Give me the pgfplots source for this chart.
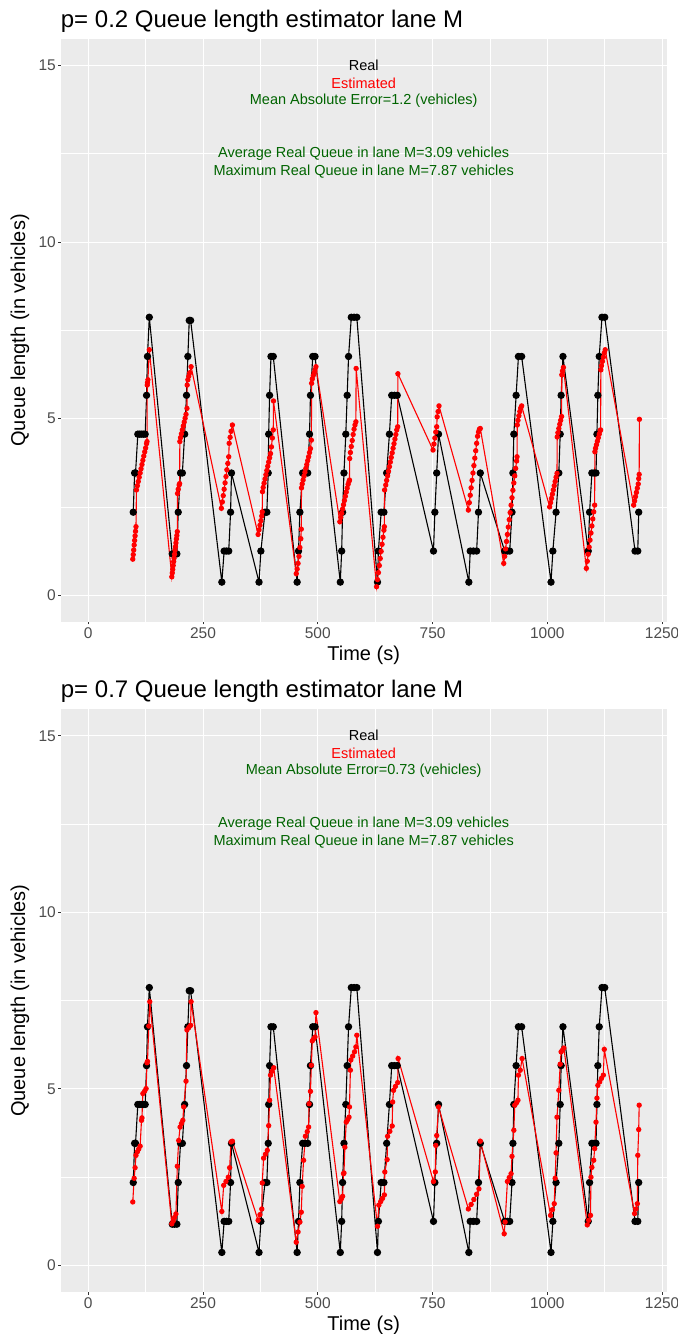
\documentclass[border=0pt]{standalone}
\usepackage{fontspec}
\setmainfont{Liberation Sans}
\usepackage{pgfplots}
\usepackage{pgfplotstable}
\pgfplotsset{compat=1.18}

\definecolor{ggbg}{HTML}{EBEBEB}
\definecolor{ggtick}{HTML}{333333}
\definecolor{ggtext}{HTML}{4D4D4D}
\definecolor{gggreen}{RGB}{0,100,0}

% real queue (same in both panels)
\pgfplotstableread{
t v
98 2.35
101 3.46
103 3.46
108 4.56
112 4.56
116 4.56
120 4.56
124 4.56
127 5.66
129 6.76
133 7.87
183 1.17
188 1.17
193 1.17
196 2.35
201 3.46
205 3.46
210 4.56
214 5.66
217 6.76
220 7.78
223 7.78
291 0.37
296 1.25
301 1.25
306 1.25
310 2.35
312 3.46
372 0.37
376 1.25
385 2.35
389 2.35
392 3.46
393 4.56
395 5.66
398 6.76
403 6.76
455 0.37
458 1.25
461 2.35
467 3.46
472 3.46
478 3.46
482 4.56
484 5.66
489 6.76
494 6.76
549 0.37
552 1.25
554 2.35
557 3.46
561 4.56
564 5.66
567 6.76
573 7.87
579 7.87
585 7.87
630 0.37
632 1.25
638 2.35
644 2.35
650 3.46
656 4.56
661 5.66
667 5.66
673 5.66
752 1.25
755 2.35
759 3.46
763 4.56
829 0.37
832 1.25
839 1.25
846 1.25
850 2.35
854 3.46
907 1.25
913 1.25
918 1.25
923 2.35
925 3.46
927 4.56
932 5.66
937 6.76
944 6.76
1008 0.37
1012 1.25
1019 2.35
1025 3.46
1028 4.56
1030 5.66
1034 6.76
1089 1.25
1092 2.35
1097 3.46
1102 3.46
1106 3.46
1108 4.56
1110 5.66
1113 6.76
1119 7.87
1125 7.87
1191 1.25
1197 1.25
1199 2.35
}\realq

% estimated, p = 0.2
\pgfplotstableread{
t v
97 1.02
98 1.15
99 1.28
100 1.42
101 1.55
102 1.68
103 1.81
104 1.94
105 2.98
107 3.10
109 3.22
111 3.34
113 3.46
115 3.58
117 3.70
119 3.82
121 3.94
123 4.06
125 4.17
127 4.29
128 4.35
128.5 5.95
129 6.02
130 6.10
133 6.95
182 0.52
183 0.63
184 0.73
185 0.84
186 0.95
187 1.05
188 1.16
189 1.27
190 1.37
191 1.48
192 1.59
193 1.69
194 1.80
194.5 2.88
196 3.00
198 3.12
199 3.16
199.5 4.35
201 4.46
203 4.57
205 4.68
207 4.79
209 4.90
211 5.01
213 5.12
215 5.29
215.5 5.95
217 6.10
219 6.20
221 6.30
224 6.47
290 2.46
292 2.64
294 2.82
296 3.00
298 3.18
300 3.36
302 3.55
304 3.73
306 3.92
307 4.30
309 4.47
311 4.64
314 4.82
370 1.72
372 1.85
374 1.98
376 2.11
378 2.24
379 2.36
379.5 2.93
381 3.05
383 3.17
385 3.29
387 3.41
389 3.53
391 3.65
393 3.77
395 3.89
397 4.01
399 4.20
401 4.45
403 4.68
403.5 5.50
453 0.61
455 0.74
457 0.90
459 1.10
461 1.35
463 1.60
464 1.87
464.5 3.04
466 3.15
468 3.26
470 3.37
472 3.48
474 3.59
476 3.70
478 3.81
480 3.92
482 4.04
484 4.15
486 4.39
486.5 6.00
488 6.12
490 6.22
492 6.30
494 6.38
496 6.47
548 2.08
550 2.20
552 2.32
554 2.44
556 2.56
558 2.68
560 2.80
562 2.92
564 3.03
566 3.14
568 3.22
569 3.26
569.5 3.87
571 4.04
573 4.21
575 4.38
577 4.55
579 4.70
581 4.82
583 4.91
583.5 6.42
628 0.24
630 0.44
632 0.64
634 0.84
636 1.04
638 1.24
640 1.44
642 1.64
644 1.84
645 1.94
645.5 2.98
648 3.12
650 3.25
652 3.38
654 3.51
656 3.64
658 3.77
660 3.90
662 4.03
664 4.16
666 4.29
668 4.42
670 4.55
672 4.68
674 4.77
674.5 6.27
751 4.11
753 4.28
755 4.45
757 4.62
759 4.77
760 5.05
762 5.20
764 5.36
828 2.41
830 2.62
832 2.83
834 3.04
836 3.25
838 3.46
840 3.67
842 3.88
844 4.09
846 4.30
848 4.50
850 4.62
852 4.70
854 4.72
905 0.90
907 1.10
909 1.31
911 1.52
913 1.72
915 1.93
917 2.14
919 2.34
921 2.55
923 2.76
925 2.97
927 3.18
929 3.38
931 3.59
933 3.80
934 3.92
934.5 4.82
936 4.95
938 5.08
940 5.20
942 5.30
944 5.36
1005 2.50
1007 2.62
1009 2.74
1011 2.86
1013 2.98
1015 3.10
1017 3.22
1019 3.34
1021 3.45
1021.5 4.48
1023 4.60
1025 4.72
1027 4.84
1029 4.95
1031 5.06
1031.5 6.24
1033 6.35
1035 6.45
1085 0.76
1087 0.96
1089 1.16
1091 1.36
1093 1.56
1095 1.76
1097 1.96
1099 2.16
1101 2.36
1103 2.55
1103.5 4.06
1105 4.16
1107 4.26
1109 4.36
1111 4.46
1113 4.56
1115 4.66
1116 4.68
1116.5 6.38
1118 6.50
1120 6.62
1122 6.74
1124 6.86
1126 6.95
1188 2.55
1190 2.67
1192 2.79
1194 2.91
1196 3.03
1198 3.15
1199 3.30
1200 3.42
1200.5 4.98
}\estA

% estimated, p = 0.7
\pgfplotstableread{
t v
97 1.80
100 2.47
102 2.77
104 3.12
107 3.22
110 3.30
113 3.38
116 4.11
117 4.18
119 4.87
123 4.94
126 5.01
128 5.74
129 5.78
132 6.78
134 7.47
182 1.18
185 1.26
188 1.36
191 1.46
194 2.81
197 3.54
200 3.92
203 4.02
206 4.11
208 4.49
213 5.22
215 6.67
219 6.74
223 6.80
224 7.47
291 1.53
295 2.27
300 2.38
305 2.50
308 2.77
311 3.50
314 3.52
370 1.28
374 1.44
378 1.60
379 2.34
382 3.04
386 3.15
390 3.26
393 3.96
395 4.68
397 5.39
400 5.50
404 5.60
453 0.66
457 0.95
461 1.23
464 1.51
466 2.24
469 2.98
473 3.66
477 3.79
480 3.92
481 4.58
484 4.93
486 5.67
488 6.36
491 6.42
494 6.47
496 7.16
548 1.81
551 1.88
554 1.96
556 2.60
557 2.62
559 3.35
562 4.06
565 4.13
568 4.20
569 4.49
571 5.53
572 5.82
576 5.93
580 6.05
583 6.19
585 6.52
630 1.11
633 1.71
637 1.81
641 1.90
645 2.00
646 2.65
651 3.00
652 3.66
657 3.80
662 3.95
663 4.63
665 4.96
669 5.07
674 5.18
675 5.86
752 2.38
756 2.65
757 3.40
759 3.68
763 4.49
828 1.60
834 1.73
840 1.87
846 2.02
851 2.17
854 3.52
906 0.90
908 1.23
913 2.38
917 2.49
921 2.60
923 3.09
927 3.83
929 4.54
933 4.61
936 4.68
937 5.39
941 5.53
945 5.86
1007 1.42
1011 1.58
1015 1.75
1017 2.47
1019 3.19
1021 4.20
1025 4.96
1028 5.70
1030 6.05
1033 6.10
1036 6.16
1087 1.15
1090 1.28
1094 1.42
1095 2.50
1097 2.78
1101 2.98
1103 3.31
1106 4.06
1108 4.74
1110 5.10
1114 5.20
1118 5.30
1122 5.39
1124 6.12
1190 1.47
1193 1.60
1196 1.75
1197 3.12
1199 3.85
1200 4.54
}\estB

\pgfplotsset{
  ggpanel/.style={
    scale only axis,
    width=606bp, height=582.7bp,
    xmin=-60, xmax=1260, ymin=-0.75, ymax=15.75,
    axis background/.style={fill=ggbg},
    axis line style={draw=none},
    xtick={0,250,...,1250}, ytick={0,5,10,15},
    minor xtick={125,375,...,1125}, minor ytick={2.5,7.5,12.5},
    grid=both,
    major grid style={white, line width=1.0bp},
    minor grid style={white, line width=0.5bp},
    tick pos=left, tick align=outside,
    major tick length=2.7bp, minor tick length=0pt,
    tick style={ggtick, line width=1.0bp},
    ticklabel style={font=\fontsize{15.5bp}{18bp}\selectfont, text=ggtext},
    xticklabel style={inner sep=0pt, anchor=north, yshift=-3bp},
    yticklabel style={inner sep=0pt, anchor=east, xshift=-2bp},
    /pgf/number format/assume math mode=true,
    /pgf/number format/1000 sep={},
  },
  realline/.style={black, line width=1.1bp, mark=*, mark size=3.1bp,
    mark options={draw=none, fill=black}},
  estline/.style={red, line width=1.1bp, mark=*, mark size=2.1bp,
    mark options={draw=none, fill=red}},
}
\tikzset{annot/.style={font=\fontsize{14.5bp}{16bp}\selectfont, anchor=center}}

\newcommand{\gtitle}{\fontsize{24bp}{28bp}\selectfont}
\newcommand{\glab}{\fontsize{20bp}{24bp}\selectfont}

\begin{document}
\begin{tikzpicture}[x=1bp, y=1bp]
\useasboundingbox (0,0) rectangle (677,1334);

% ---- top panel: p = 0.2
\begin{axis}[ggpanel, at={(60.7bp,712.3bp)}, anchor=south west]
\addplot[realline] table[x=t, y=v] {\realq};
\addplot[estline] table[x=t, y=v] {\estA};
\node[annot, black] at (axis cs:600,15) {Real};
\node[annot, red] at (axis cs:600,14.5) {Estimated};
\node[annot, gggreen] at (axis cs:600,14) {Mean Absolute Error=1.2 (vehicles)};
\node[annot, gggreen] at (axis cs:600,12.5) {Average Real Queue in lane M=3.09 vehicles};
\node[annot, gggreen] at (axis cs:600,12) {Maximum Real Queue in lane M=7.87 vehicles};
\end{axis}
\node[anchor=base west, inner sep=0pt] at (60.7,1306.5) {\gtitle p= 0.2 Queue length estimator lane M};
\node[anchor=base, inner sep=0pt] at (363.7,673) {\glab Time (s)};
\node[rotate=90, anchor=center, inner sep=0pt] at (20,1003.6) {\glab Queue length (in vehicles)};

% ---- bottom panel: p = 0.7
\begin{axis}[ggpanel, at={(60.7bp,42bp)}, anchor=south west]
\addplot[realline] table[x=t, y=v] {\realq};
\addplot[estline] table[x=t, y=v] {\estB};
\node[annot, black] at (axis cs:600,15) {Real};
\node[annot, red] at (axis cs:600,14.5) {Estimated};
\node[annot, gggreen] at (axis cs:600,14) {Mean Absolute Error=0.73 (vehicles)};
\node[annot, gggreen] at (axis cs:600,12.5) {Average Real Queue in lane M=3.09 vehicles};
\node[annot, gggreen] at (axis cs:600,12) {Maximum Real Queue in lane M=7.87 vehicles};
\end{axis}
\node[anchor=base west, inner sep=0pt] at (60.7,636.5) {\gtitle p= 0.7 Queue length estimator lane M};
\node[anchor=base, inner sep=0pt] at (363.7,3) {\glab Time (s)};
\node[rotate=90, anchor=center, inner sep=0pt] at (20,333.3) {\glab Queue length (in vehicles)};
\end{tikzpicture}
\end{document}
